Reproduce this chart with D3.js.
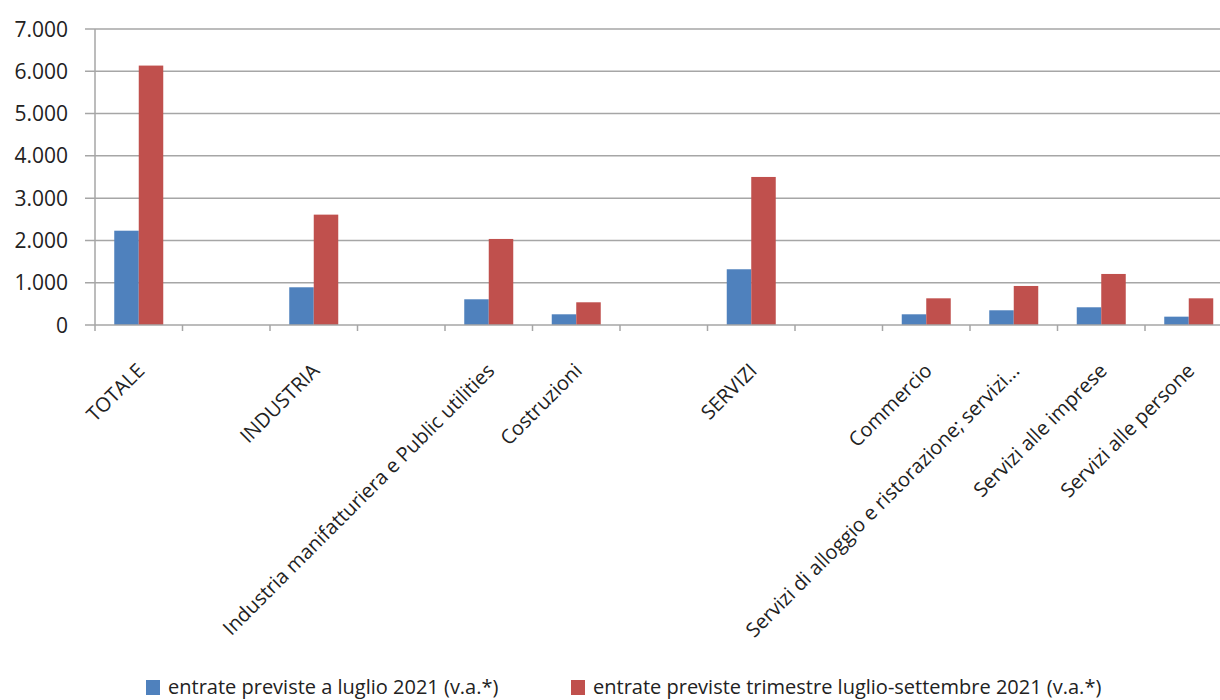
<!DOCTYPE html>
<html>
<head>
<meta charset="utf-8">
<script src="https://cdn.jsdelivr.net/npm/d3@7"></script>
<style>
  body { margin: 0; background: #fff; }
  svg { display: block; font-family: "Open Sans", sans-serif; }
</style>
</head>
<body>
<div id="chart_area"></div>
<script>
// categories (empty strings are the blank slots of the original chart)
var categories = ["TOTALE", "", "INDUSTRIA", "", "Industria manifatturiera e Public utilities", "Costruzioni", "",
    "SERVIZI", "", "Commercio", "Servizi di alloggio e ristorazione; servizi...", "Servizi alle imprese", "Servizi alle persone"];
var luglio = [2230, null, 892, null, 608, 253, null, 1318, null, 253, 348, 419, 197];
var trimestre = [6135, null, 2610, null, 2035, 537, null, 3501, null, 631, 923, 1207, 631];
var seriesNames = ["entrate previste a luglio 2021 (v.a.*)", "entrate previste trimestre luglio-settembre 2021 (v.a.*)"];
var seriesColors = ["#4f81bd", "#c0504d"];
var yTicks = [0, 1000, 2000, 3000, 4000, 5000, 6000, 7000];

var width = 1220, height = 700;
var margin = { top: 29, left: 95, bottom: 325 };
var slot = 87.5;

var svg = d3.select("#chart_area")
    .append("svg")
    .attr("width", width)
    .attr("height", height);

var x = d3.scaleBand()
    .domain(d3.range(categories.length))
    .range([margin.left, margin.left + slot * categories.length])
    .padding(0);

var y = d3.scaleLinear()
    .domain([0, 7000])
    .range([margin.bottom, margin.top]);

var x1 = d3.scaleBand()
    .domain([0, 1])
    .range([slot / 2 - 24.5, slot / 2 + 24.5]);

var format = function (v) { return d3.format(",")(v).replace(/,/g, "."); };

// gridlines
svg.append("g")
    .selectAll("line")
    .data(yTicks.slice(1))
    .enter().append("line")
    .attr("x1", margin.left - 10)
    .attr("x2", width)
    .attr("y1", function (d) { return y(d); })
    .attr("y2", function (d) { return y(d); })
    .style("stroke", "#a6a6a6")
    .style("stroke-width", 1.5);

// y tick labels
svg.append("g")
    .selectAll("text")
    .data(yTicks)
    .enter().append("text")
    .attr("x", 68)
    .attr("y", function (d) { return y(d); })
    .attr("dy", "0.36em")
    .attr("text-anchor", "end")
    .style("font-size", "21px")
    .style("fill", "#222")
    .text(format);

// bars
var rows = categories.map(function (c, i) { return { i: i, vals: [luglio[i], trimestre[i]] }; });
var groups = svg.append("g")
    .selectAll("g")
    .data(rows)
    .enter().append("g")
    .attr("transform", function (d) { return "translate(" + x(d.i) + ",0)"; });

groups.selectAll("rect")
    .data(function (d) { return d.vals.map(function (v, k) { return { k: k, v: v }; }).filter(function (e) { return e.v != null; }); })
    .enter().append("rect")
    .attr("x", function (d) { return x1(d.k); })
    .attr("width", x1.bandwidth())
    .attr("y", function (d) { return y(d.v); })
    .attr("height", function (d) { return y(0) - y(d.v); })
    .style("fill", function (d) { return seriesColors[d.k]; });

// axes lines
svg.append("line")
    .attr("x1", margin.left - 10).attr("x2", width)
    .attr("y1", y(0)).attr("y2", y(0))
    .style("stroke", "#a6a6a6").style("stroke-width", 1.5);
svg.append("line")
    .attr("x1", margin.left).attr("x2", margin.left)
    .attr("y1", margin.top).attr("y2", y(0) + 6)
    .style("stroke", "#a6a6a6").style("stroke-width", 1.5);

// x ticks at slot boundaries
svg.append("g")
    .selectAll("line")
    .data(d3.range(1, categories.length + 1))
    .enter().append("line")
    .attr("x1", function (d) { return margin.left + d * slot; })
    .attr("x2", function (d) { return margin.left + d * slot; })
    .attr("y1", y(0))
    .attr("y2", y(0) + 6)
    .style("stroke", "#a6a6a6").style("stroke-width", 1.5);

// category labels
svg.append("g")
    .selectAll("text")
    .data(rows.filter(function (d) { return categories[d.i] !== ""; }))
    .enter().append("text")
    .attr("transform", function (d) { return "translate(" + (x(d.i) + slot / 2 + 7) + ",372) rotate(-45)"; })
    .attr("text-anchor", "end")
    .style("font-size", "20px")
    .style("fill", "#222")
    .text(function (d) { return categories[d.i]; });

// legend
var legendX = [146, 571];
var legend = svg.append("g")
    .selectAll("g")
    .data(seriesNames)
    .enter().append("g")
    .attr("transform", function (d, i) { return "translate(" + legendX[i] + ",680)"; });
legend.append("rect")
    .attr("width", 14).attr("height", 15)
    .style("fill", function (d, i) { return seriesColors[i]; });
legend.append("text")
    .attr("x", 22)
    .attr("y", 14)
    .style("font-size", "20px")
    .style("fill", "#222")
    .text(function (d) { return d; });
</script>
</body>
</html>
